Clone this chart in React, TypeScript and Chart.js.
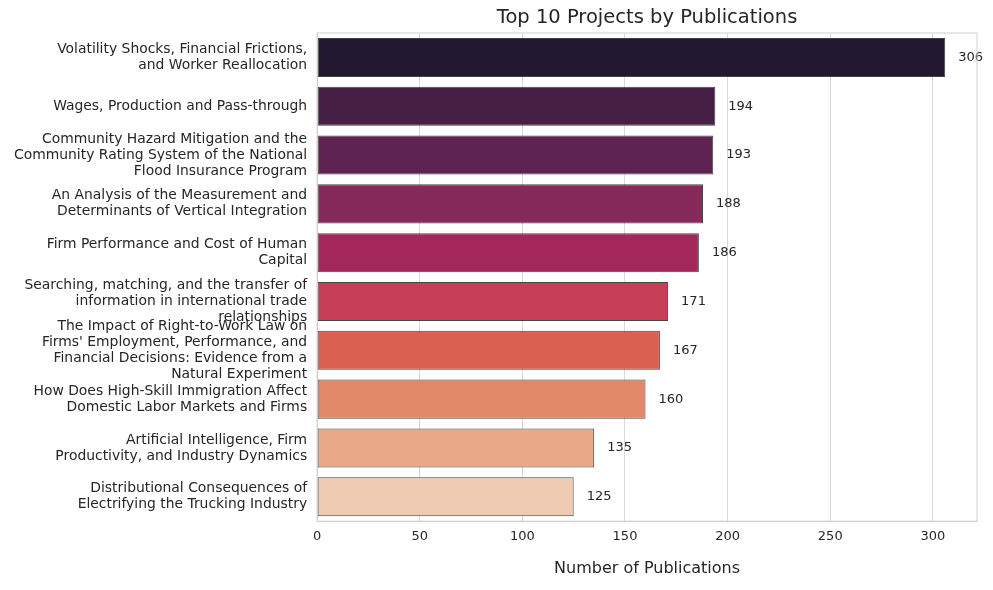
import React, { useEffect, useRef } from 'react';
import Chart from 'chart.js/auto';

const projects: string[][] = [
  ['Volatility Shocks, Financial Frictions,', 'and Worker Reallocation'],
  ['Wages, Production and Pass-through'],
  ['Community Hazard Mitigation and the', 'Community Rating System of the National', 'Flood Insurance Program'],
  ['An Analysis of the Measurement and', 'Determinants of Vertical Integration'],
  ['Firm Performance and Cost of Human', 'Capital'],
  ['Searching, matching, and the transfer of', 'information in international trade', 'relationships'],
  ['The Impact of Right-to-Work Law on', "Firms' Employment, Performance, and", 'Financial Decisions: Evidence from a', 'Natural Experiment'],
  ['How Does High-Skill Immigration Affect', 'Domestic Labor Markets and Firms'],
  ['Artificial Intelligence, Firm', 'Productivity, and Industry Dynamics'],
  ['Distributional Consequences of', 'Electrifying the Trucking Industry'],
];
const publications = [306, 194, 193, 188, 186, 171, 167, 160, 135, 125];
const barColors = ['#221830', '#451f44', '#5e2350', '#852a5a', '#a3275b', '#c73e57', '#d9614f', '#e08868', '#e8aa88', '#eecab2'];
const xTicks = [0, 50, 100, 150, 200, 250, 300];

const valueLabels = {
  id: 'valueLabels',
  afterDatasetsDraw(chart: any) {
    const ctx = chart.ctx;
    const meta = chart.getDatasetMeta(0);
    ctx.save();
    ctx.font = '13px "DejaVu Sans", sans-serif';
    ctx.fillStyle = '#262626';
    ctx.textBaseline = 'middle';
    meta.data.forEach((bar: any, i: number) => {
      ctx.fillText(String(publications[i]), bar.x + 13, bar.y);
    });
    ctx.restore();
  },
};

export default function App() {
  const ref = useRef<HTMLCanvasElement | null>(null);
  useEffect(() => {
    document.body.style.margin = '0';
    const ctx = ref.current?.getContext('2d');
    if (!ctx) return;
    const font = { family: '"DejaVu Sans", sans-serif' };
    const chart = new Chart(ctx, {
      type: 'bar',
      data: {
        labels: projects,
        datasets: [{
          data: publications,
          backgroundColor: barColors,
          borderColor: '#444444',
          borderWidth: 1,
          borderSkipped: false,
          barPercentage: 0.8,
          categoryPercentage: 1,
        }],
      },
      options: {
        indexAxis: 'y',
        animation: false,
        responsive: false,
        layout: { padding: { left: 4, right: 16, top: 33, bottom: 8 } },
        plugins: {
          legend: { display: false },
          tooltip: { enabled: false },
        },
        scales: {
          x: {
            min: 0,
            max: 321.5,
            afterBuildTicks: (axis: any) => { axis.ticks = xTicks.map((v) => ({ value: v })); },
            grid: { color: '#d9d9d9', drawTicks: false },
            border: { color: '#d0d0d0' },
            ticks: { color: '#262626', font: { ...font, size: 13 }, padding: 8 },
            title: { display: true, text: 'Number of Publications', color: '#262626', font: { ...font, size: 16 }, padding: { top: 6 } },
          },
          y: {
            grid: { display: false, drawTicks: false },
            border: { color: '#d0d0d0' },
            ticks: { color: '#262626', autoSkip: false, font: { ...font, size: 13.9, lineHeight: 1.15 }, padding: 10 },
          },
        },
      },
      plugins: [valueLabels, {
        id: 'frame',
        afterDraw(c: any) {
          const { left, right, top, bottom } = c.chartArea;
          const g = c.ctx;
          g.save();
          g.strokeStyle = '#d0d0d0';
          g.strokeRect(left, top, right - left, bottom - top);
          g.font = '19.5px "DejaVu Sans", sans-serif';
          g.fillStyle = '#262626';
          g.textAlign = 'center';
          g.textBaseline = 'middle';
          g.fillText('Top 10 Projects by Publications', (left + right) / 2, 18);
          g.restore();
        },
      }],
    });
    return () => chart.destroy();
  }, []);
  return <canvas ref={ref} width={993} height={590} />;
}
